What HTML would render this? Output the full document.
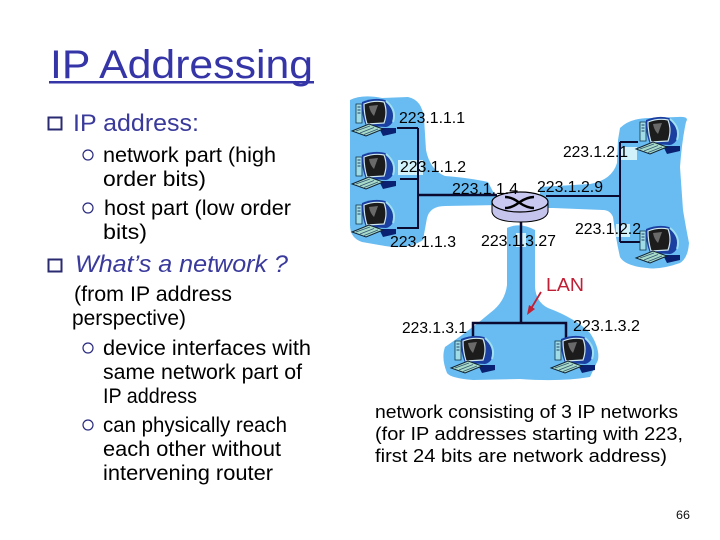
<!DOCTYPE html>
<html><head><meta charset="utf-8"><style>
html,body{margin:0;padding:0;background:#fff}
svg{display:block}
text{font-family:"Liberation Sans",sans-serif}
.b{font-size:21px;fill:#000}
.h{font-size:24px;fill:#3a3a9c}
.ip{font-size:16px;fill:#000}
.n{font-size:18.5px;fill:#000}
</style></head><body>
<svg width="720" height="540" viewBox="0 0 720 540" xmlns="http://www.w3.org/2000/svg">
<defs>
<g id="pc">
<path d="M4 5h6v19h-6z" fill="#9fdce8" stroke="#134" stroke-width=".8"/>
<path d="M5.500 8h3M5.500 11h3M5.500 14h3" stroke="#246" stroke-width="1"/>
<path d="M10 3Q22-2 33 1Q44 10 41 22Q39 27 34 28L14 27Q9 15 10 3Z" fill="#1a3fa0"/>
<path d="M34 2Q45 11 41 23" fill="none" stroke="#9fe0ee" stroke-width="2"/>
<path d="M12 5Q22 1 32 3Q36 13 32 24L15 25Q12 15 12 5Z" fill="#1c1c1c" stroke="#cfe8ee" stroke-width="1.200"/>
<path d="M17 7L26 6L22 17Q18 13 17 7Z" fill="#6a6a6a"/>
<path d="M27 29L44 29L44 34L31 37Z" fill="#0a2070"/>
<path d="M0 32L17 25L31 30L14 37Z" fill="#a8dcc8" stroke="#123" stroke-width="1"/>
<path d="M4 32L18 27M8 34L22 28.500M12 35.500L26 30" stroke="#357" stroke-width=".8"/>
</g>
</defs>

<text x="50" y="78" font-size="40" fill="#3535a8" textLength="263" lengthAdjust="spacingAndGlyphs">IP Addressing</text>
<rect x="49" y="81" width="265" height="2.500" fill="#3535a8"/>

<rect x="48.500" y="117.500" width="13" height="12" fill="none" stroke="#2a2a70" stroke-width="2"/>
<text x="73" y="131" class="h" textLength="126" lengthAdjust="spacingAndGlyphs">IP address:</text>
<circle cx="88" cy="155" r="5" fill="none" stroke="#2a2a80" stroke-width="1.200"/>
<text x="103" y="162" class="b" textLength="173" lengthAdjust="spacingAndGlyphs">network part (high</text>
<text x="103" y="186" class="b" textLength="103" lengthAdjust="spacingAndGlyphs">order bits)</text>
<circle cx="88" cy="208" r="5" fill="none" stroke="#2a2a80" stroke-width="1.200"/>
<text x="104" y="215" class="b" textLength="187" lengthAdjust="spacingAndGlyphs">host part (low order</text>
<text x="103" y="239" class="b" textLength="44" lengthAdjust="spacingAndGlyphs">bits)</text>

<rect x="48.500" y="259.500" width="13" height="12" fill="none" stroke="#2a2a70" stroke-width="2"/>
<text x="75" y="272" class="h" font-style="italic" textLength="213" lengthAdjust="spacingAndGlyphs">What’s a network ?</text>
<text x="74" y="301" class="b" textLength="158" lengthAdjust="spacingAndGlyphs">(from IP address</text>
<text x="72" y="325" class="b" textLength="114" lengthAdjust="spacingAndGlyphs">perspective)</text>
<circle cx="88" cy="348" r="5" fill="none" stroke="#2a2a80" stroke-width="1.200"/>
<text x="103" y="355" class="b" textLength="208" lengthAdjust="spacingAndGlyphs">device interfaces with</text>
<text x="103" y="379" class="b" textLength="199" lengthAdjust="spacingAndGlyphs">same network part of</text>
<text x="103" y="403" class="b" textLength="94" lengthAdjust="spacingAndGlyphs">IP address</text>
<circle cx="88" cy="425" r="5" fill="none" stroke="#2a2a80" stroke-width="1.200"/>
<text x="103" y="432" class="b" textLength="184" lengthAdjust="spacingAndGlyphs">can physically reach</text>
<text x="103" y="456" class="b" textLength="178" lengthAdjust="spacingAndGlyphs">each other without</text>
<text x="103" y="480" class="b" textLength="170" lengthAdjust="spacingAndGlyphs">intervening router</text>

<g fill="#68bcf2">
<path d="M350 100Q362 94 382 98L408 97Q422 100 424 118L426 150Q430 170 445 176Q470 178 488 182L500 205L445 206Q430 206 427 218L423 240Q408 250 385 246L362 242Q350 238 350 225Z"/>
<path d="M620 128Q630 118 650 118L677 117Q690 116 686 122Q682 140 680 167L683 210Q686 228 689 243Q688 258 680 263Q660 270 647 268Q625 266 620 257Q616 240 613 217Q610 210 603 210L553 208L540 208L540 187L590 184Q612 180 617 163L618 140Z"/>
<path d="M507 228Q520 222 535 230L535 287Q536 302 548 308Q575 318 590 333Q600 348 598 360L590 377Q560 382 520 379L473 380Q450 378 447 373Q441 358 445 347Q470 330 490 313Q505 302 507 285Z"/>
</g>

<g fill="#d2f2fb">
<rect x="398" y="160" width="25" height="15"/>
<rect x="620" y="147" width="17" height="13"/>
<rect x="616" y="224" width="14" height="13"/>
<rect x="516" y="233" width="10" height="14"/>
</g>

<g stroke="#0a0a30" fill="none">
<path d="M397 128H418M400 179H418M397 228H418M418 128V229" stroke-width="2"/>
<path d="M418 195H497" stroke-width="2.500"/>
<path d="M620 142V242M638 142H620M620 242H640M546 196H620" stroke-width="2"/>
<path d="M521 222V323" stroke-width="2.500"/>
<path d="M473 338V323H566V338" stroke-width="2.500"/>
</g>

<use href="#pc" x="352" y="99"/>
<use href="#pc" x="352" y="152"/>
<use href="#pc" x="352" y="200"/>
<use href="#pc" x="636" y="117"/>
<use href="#pc" x="636" y="226"/>
<use href="#pc" x="451" y="336"/>
<use href="#pc" x="551" y="336"/>

<path d="M492 202V212Q494 222 520 222Q546 222 548 212V202Z" fill="#c4c4ec" stroke="#000" stroke-width="1"/>
<ellipse cx="520" cy="202" rx="28" ry="10" fill="#c8c8f0" stroke="#000" stroke-width="1.200"/>
<path d="M505 197Q512 197 519 202.500Q527 208 534 208M505 208Q512 208 519 202.500Q527 197 534 197" fill="none" stroke="#000" stroke-width="2.400"/>

<text x="399" y="123" class="ip" textLength="66" lengthAdjust="spacingAndGlyphs">223.1.1.1</text>
<text x="400" y="172" class="ip" textLength="66" lengthAdjust="spacingAndGlyphs">223.1.1.2</text>
<text x="452" y="194" class="ip" textLength="66" lengthAdjust="spacingAndGlyphs">223.1.1.4</text>
<text x="390" y="247" class="ip" textLength="66" lengthAdjust="spacingAndGlyphs">223.1.1.3</text>
<text x="481" y="246" class="ip" textLength="75" lengthAdjust="spacingAndGlyphs">223.1.3.27</text>
<text x="563" y="157" class="ip" textLength="65" lengthAdjust="spacingAndGlyphs">223.1.2.1</text>
<text x="537" y="192" class="ip" textLength="66" lengthAdjust="spacingAndGlyphs">223.1.2.9</text>
<text x="575" y="234" class="ip" textLength="66" lengthAdjust="spacingAndGlyphs">223.1.2.2</text>
<text x="402" y="333" class="ip" textLength="65" lengthAdjust="spacingAndGlyphs">223.1.3.1</text>
<text x="573" y="331" class="ip" textLength="67" lengthAdjust="spacingAndGlyphs">223.1.3.2</text>

<text x="546" y="291" font-size="18" fill="#c02035" textLength="38" lengthAdjust="spacingAndGlyphs">LAN</text>
<path d="M541 292L529 312" stroke="#c02035" stroke-width="1.800" fill="none"/>
<path d="M527 315L529 305L535 309Z" fill="#c02035"/>

<text x="375" y="418" class="n" textLength="303" lengthAdjust="spacingAndGlyphs">network consisting of 3 IP networks</text>
<text x="375" y="440" class="n" textLength="308" lengthAdjust="spacingAndGlyphs">(for IP addresses starting with 223,</text>
<text x="375" y="462" class="n" textLength="292" lengthAdjust="spacingAndGlyphs">first 24 bits are network address)</text>
<text x="676" y="519" font-size="12" fill="#111" textLength="14" lengthAdjust="spacingAndGlyphs">66</text>
</svg>
</body></html>
